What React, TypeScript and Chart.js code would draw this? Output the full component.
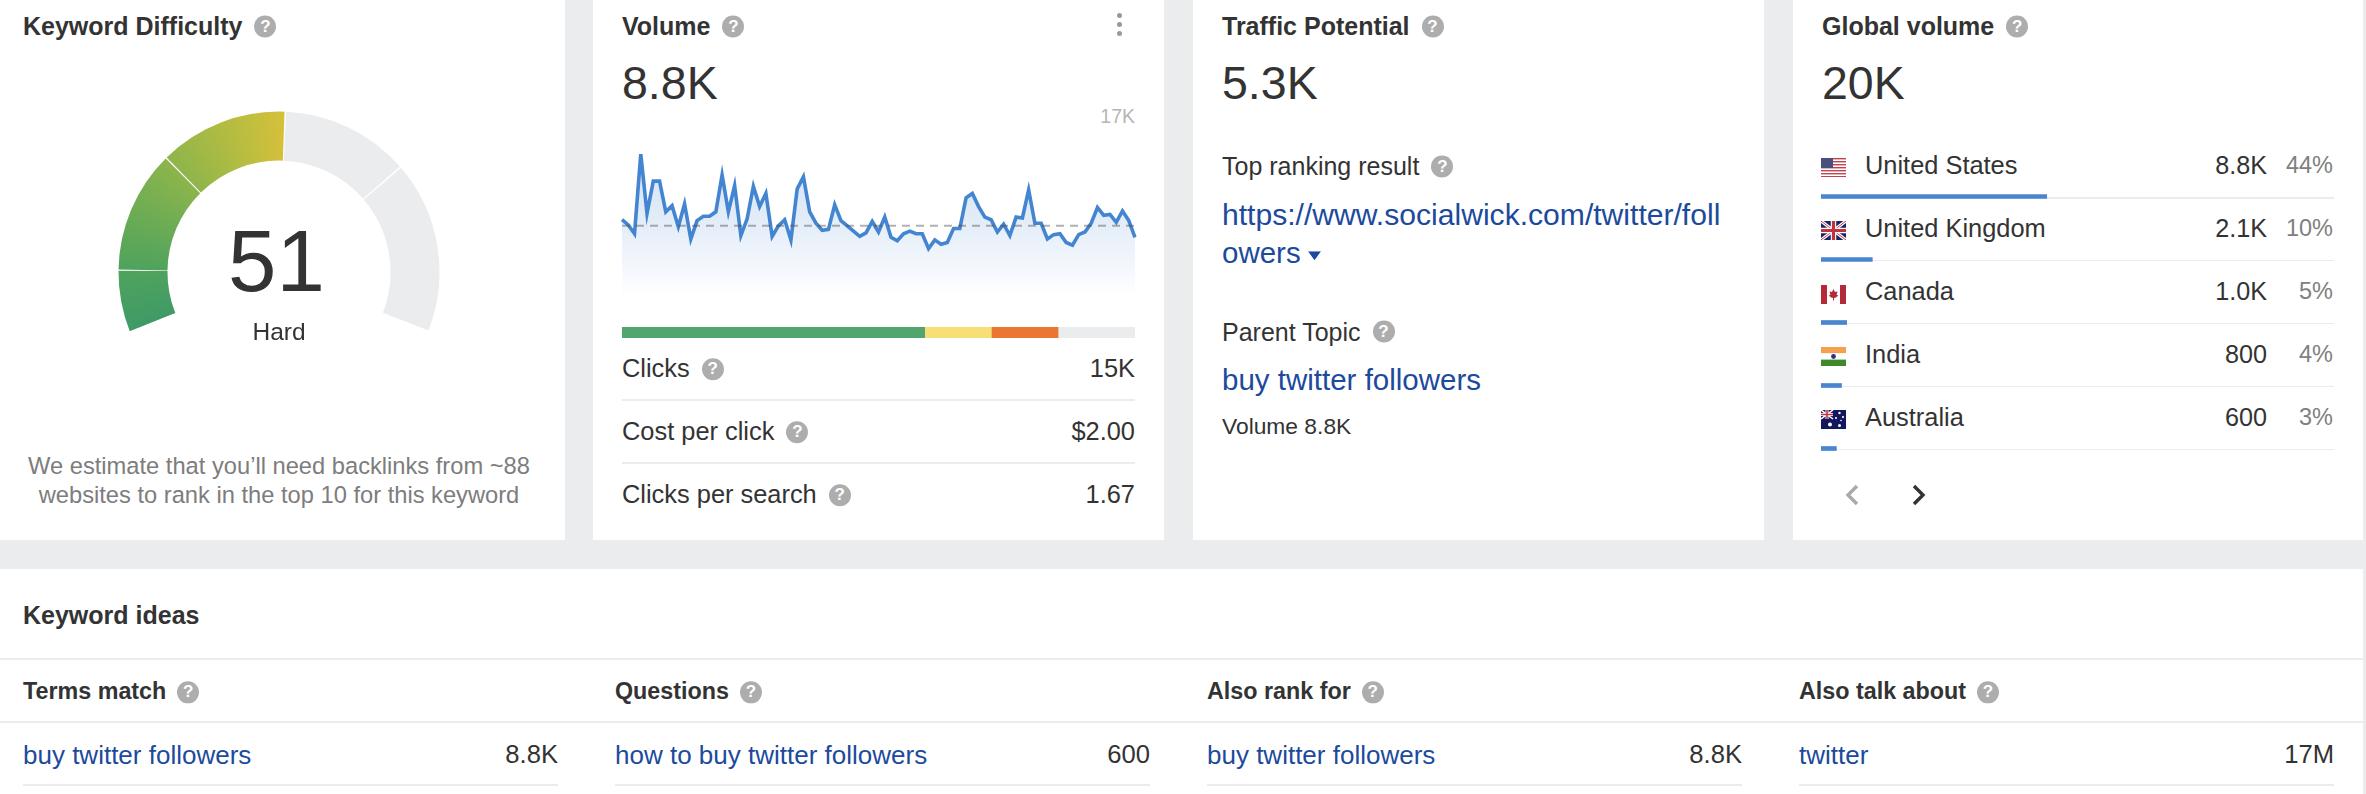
import React, { useEffect, useRef } from 'react';
import Chart from 'chart.js/auto';

const gaugeBands = [10, 20, 21, 21, 28];
const gaugeScore = '51';
const gaugeLabel = 'Hard';

const volumeTrend = [
  9.5, 8.9, 7.9, 17.0, 10.2, 13.9, 13.9, 10.4, 11.1, 8.7, 11.3, 7.3, 9.4, 9.9, 9.9, 10.4, 14.6, 10.4, 13.4, 7.7, 9.6,
  13.3, 11.0, 12.5, 7.6, 8.8, 9.5, 7.2, 13.0, 14.4, 10.4, 9.1, 8.3, 8.4, 11.2, 9.4, 8.8, 8.2, 7.6, 8.0, 9.3, 8.1, 9.8,
  7.5, 7.1, 7.9, 8.2, 7.9, 7.9, 6.2, 7.2, 6.7, 6.9, 8.5, 8.5, 12.0, 12.5, 11.0, 9.8, 9.5, 8.1, 9.0, 7.7, 9.8, 9.7,
  12.9, 9.1, 9.1, 7.3, 7.8, 7.9, 6.9, 6.6, 7.8, 8.1, 9.1, 10.9, 10.0, 10.1, 9.2, 10.5, 9.4, 7.5,
];
const volumeRef = 8.8;
const volumeMax = 17;

const clickShares = [59, 13, 13, 15];
const clickColors = ['#52a56e', '#f7df76', '#eb7632', '#ebecee'];

const statRows = ['Clicks', 'Cost per click', 'Clicks per search'];
const statValues = ['15K', '$2.00', '1.67'];

const countries = ['United States', 'United Kingdom', 'Canada', 'India', 'Australia'];
const countryVolumes = ['8.8K', '2.1K', '1.0K', '800', '600'];
const countryShares = [44, 10, 5, 4, 3];

const ideaHeads = ['Terms match', 'Questions', 'Also rank for', 'Also talk about'];
const ideaTerms = ['buy twitter followers', 'how to buy twitter followers', 'buy twitter followers', 'twitter'];
const ideaValues = ['8.8K', '600', '8.8K', '17M'];

const FONT = '"Liberation Sans", Arial, sans-serif';
const INK = '#333333';
const LINK = '#1c4a9c';
const RULE = '#ebecee';
const COUNTRY_Y = [165.5, 228.5, 292, 354.5, 417.5];
const IDEA_X = [23, 615, 1207, 1799];

function T({ x, y, size = 25, color = INK, bold = false, right = false, center = false, children }: any) {
  const style: React.CSSProperties = {
    position: 'absolute',
    top: y,
    fontSize: size,
    lineHeight: 1,
    color,
    fontWeight: bold ? 700 : 400,
    whiteSpace: 'nowrap',
    display: 'flex',
    alignItems: 'center',
  };
  if (right) {
    style.right = 2366 - x;
    style.transform = 'translateY(-50%)';
  } else if (center) {
    style.left = x;
    style.transform = 'translate(-50%, -50%)';
  } else {
    style.left = x;
    style.transform = 'translateY(-50%)';
  }
  return <div style={style}>{children}</div>;
}

function Help({ gap = 12 }: { gap?: number }) {
  return (
    <span
      style={{
        marginLeft: gap,
        width: 22,
        height: 22,
        borderRadius: '50%',
        background: '#adadad',
        color: '#fff',
        fontSize: 17,
        fontWeight: 700,
        lineHeight: '22px',
        textAlign: 'center',
        display: 'inline-block',
      }}
    >
      ?
    </span>
  );
}

function Box({ x, y, w, h, bg = RULE }: any) {
  return <div style={{ position: 'absolute', left: x, top: y, width: w, height: h, background: bg }} />;
}

function Flag({ y, name }: { y: number; name: string }) {
  let art = null;
  if (name === 'United States') {
    art = (
      <>
        <rect width="25" height="19" fill="#fff" />
        {[0, 3, 6, 9, 12, 15, 18].map((s) => (
          <rect key={s} y={s} width="25" height="1.4" fill="#c0444f" />
        ))}
        <rect width="12" height="10" fill="#4a4f7e" />
      </>
    );
  } else if (name === 'United Kingdom') {
    art = (
      <>
        <rect width="25" height="19" fill="#1a2363" />
        <path d="M0 0L25 19M25 0L0 19" stroke="#fff" strokeWidth="3.2" />
        <path d="M0 0L25 19M25 0L0 19" stroke="#c6384a" strokeWidth="1" />
        <path d="M12.5 0V19M0 9.5H25" stroke="#fff" strokeWidth="5.5" />
        <path d="M12.5 0V19M0 9.5H25" stroke="#c6303f" strokeWidth="3.2" />
      </>
    );
  } else if (name === 'Canada') {
    art = (
      <>
        <rect width="25" height="19" fill="#fff" />
        <rect width="6" height="19" fill="#b32a38" />
        <rect x="19" width="6" height="19" fill="#b32a38" />
        <path d="M12.5 4L14 7L16.5 6.5L15.6 10L17.5 10.6L14 13L13 12.8V15.5H12V12.8L11 13L7.5 10.6L9.4 10L8.5 6.5L11 7Z" fill="#b32a38" />
      </>
    );
  } else if (name === 'India') {
    art = (
      <>
        <rect width="25" height="6.4" fill="#f4a04e" />
        <rect y="6.4" width="25" height="6.2" fill="#fff" />
        <rect y="12.6" width="25" height="6.4" fill="#3d8a2b" />
        <circle cx="12.5" cy="9.5" r="2.4" fill="#2f2f8f" />
      </>
    );
  } else {
    art = (
      <>
        <rect width="25" height="19" fill="#14165e" />
        <rect width="12" height="9" fill="#1a2363" />
        <path d="M0 0L12 9M12 0L0 9" stroke="#fff" strokeWidth="1.5" />
        <path d="M6 0V9M0 4.5H12" stroke="#fff" strokeWidth="3" />
        <path d="M6 0V9M0 4.5H12" stroke="#c6303f" strokeWidth="1.6" />
        {[
          [9, 14.5, 2],
          [18.5, 15.5, 1.5],
          [18.5, 3, 1.2],
          [15, 8, 1.1],
          [22, 7, 1.1],
          [20, 10.5, 0.8],
        ].map(([cx, cy, r], i) => (
          <circle key={i} cx={cx} cy={cy} r={r} fill="#fff" />
        ))}
      </>
    );
  }
  return (
    <svg style={{ position: 'absolute', left: 1821, top: y }} width="25" height="19" viewBox="0 0 25 19">
      {art}
    </svg>
  );
}

// dashed line at the keyword's volume, through the value scale
const refLine = {
  id: 'refLine',
  afterDatasetsDraw(chart: any) {
    const { ctx, chartArea } = chart;
    const y = chart.scales.y.getPixelForValue(volumeRef);
    ctx.save();
    ctx.strokeStyle = 'rgba(70, 70, 70, 0.42)';
    ctx.lineWidth = 2;
    ctx.setLineDash([8, 6]);
    ctx.beginPath();
    ctx.moveTo(chartArea.left, y);
    ctx.lineTo(chartArea.right, y);
    ctx.stroke();
    ctx.restore();
  },
};

export default function App() {
  const gaugeRef = useRef<HTMLCanvasElement | null>(null);
  const trendRef = useRef<HTMLCanvasElement | null>(null);
  const clicksRef = useRef<HTMLCanvasElement | null>(null);
  const countryRef = useRef<HTMLCanvasElement | null>(null);

  useEffect(() => {
    document.body.style.margin = '0';
    document.body.style.background = '#ebecee';
    const charts: Chart[] = [];

    const gaugeCtx = gaugeRef.current!.getContext('2d')!;
    const startDeg = -111.7;
    const arc = gaugeCtx.createConicGradient(((startDeg - 90) * Math.PI) / 180, 162, 161);
    arc.addColorStop(0, '#3e9a66');
    arc.addColorStop(0.07, '#52a45c');
    arc.addColorStop(0.18, '#8ab44c');
    arc.addColorStop(0.25, '#b0bc42');
    arc.addColorStop(0.32, '#d8c03a');
    arc.addColorStop(0.33, '#ebecee');
    charts.push(
      new Chart(gaugeCtx, {
        type: 'doughnut',
        data: {
          labels: gaugeBands.map((_, i) => String(i)),
          datasets: [
            {
              data: gaugeBands,
              backgroundColor: (c: any) => (c.dataIndex < 3 ? arc : '#ebecee'),
              borderWidth: 0,
              spacing: 3,
            } as any,
          ],
        },
        options: {
          animation: false,
          responsive: false,
          rotation: startDeg,
          circumference: 223.4,
          cutout: '69.2%',
          radius: 159,
          events: [],
          plugins: { legend: { display: false }, tooltip: { enabled: false } },
        } as any,
      }),
    );

    const trendCtx = trendRef.current!.getContext('2d')!;
    const fade = trendCtx.createLinearGradient(0, 9, 0, 153);
    fade.addColorStop(0, 'rgba(68, 133, 209, 0.24)');
    fade.addColorStop(0.5, 'rgba(68, 133, 209, 0.14)');
    fade.addColorStop(1, 'rgba(68, 133, 209, 0)');
    charts.push(
      new Chart(trendCtx, {
        type: 'line',
        data: {
          labels: volumeTrend.map((_, i) => String(i)),
          datasets: [
            {
              data: volumeTrend,
              borderColor: '#4485d1',
              borderWidth: 3.6,
              backgroundColor: fade,
              fill: 'origin',
              pointRadius: 0,
              tension: 0,
              borderJoinStyle: 'miter',
            },
          ],
        },
        options: {
          animation: false,
          responsive: false,
          events: [],
          layout: { padding: { left: 4, right: 4, top: 9, bottom: 0 } },
          plugins: { legend: { display: false }, tooltip: { enabled: false } },
          scales: {
            x: { display: false, offset: false },
            y: { display: false, min: 0, max: volumeMax },
          },
        },
        plugins: [refLine],
      }),
    );

    charts.push(
      new Chart(clicksRef.current!, {
        type: 'bar',
        data: {
          labels: ['Clicks'],
          datasets: clickShares.map((v, i) => ({
            data: [v],
            backgroundColor: clickColors[i],
            barPercentage: 1,
            categoryPercentage: 1,
          })),
        },
        options: {
          indexAxis: 'y',
          animation: false,
          responsive: false,
          events: [],
          plugins: { legend: { display: false }, tooltip: { enabled: false } },
          scales: {
            x: { display: false, stacked: true, min: 0, max: 100 },
            y: { display: false, stacked: true },
          },
        },
      }),
    );

    charts.push(
      new Chart(countryRef.current!, {
        type: 'bar',
        data: {
          labels: countries,
          datasets: [{ data: countryShares, backgroundColor: '#4a86d0', barThickness: 4 }],
        },
        options: {
          indexAxis: 'y',
          animation: false,
          responsive: false,
          events: [],
          plugins: { legend: { display: false }, tooltip: { enabled: false } },
          scales: {
            x: { display: false, min: 0, max: 100 },
            y: { display: false },
          },
        },
      }),
    );

    return () => {
      charts.forEach((c) => c.destroy());
    };
  }, []);

  const canvasAt = (left: number, top: number): React.CSSProperties => ({ position: 'absolute', left, top, display: 'block' });

  return (
    <div
      style={{
        position: 'absolute',
        left: 0,
        top: 0,
        width: 2366,
        height: 794,
        overflow: 'hidden',
        background: '#ebecee',
        fontFamily: FONT,
      }}
    >
      <Box x={0} y={0} w={565} h={540} bg="#fff" />
      <Box x={593} y={0} w={571} h={540} bg="#fff" />
      <Box x={1193} y={0} w={571} h={540} bg="#fff" />
      <Box x={1793} y={0} w={570} h={540} bg="#fff" />
      <Box x={0} y={569} w={2363} h={225} bg="#fff" />

      {/* Keyword Difficulty */}
      <T x={23} y={26} bold size={25}>
        Keyword Difficulty
        <Help />
      </T>
      <canvas ref={gaugeRef} width={324} height={222} style={canvasAt(117, 111)} />
      <T x={276.5} y={260} center size={87}>
        {gaugeScore}
      </T>
      <T x={279} y={332} center size={24.5}>
        {gaugeLabel}
      </T>
      <T x={279} y={467} center size={23.7} color="#7d7d7d">
        We estimate that you’ll need backlinks from ~88
      </T>
      <T x={279} y={496} center size={23.7} color="#7d7d7d">
        websites to rank in the top 10 for this keyword
      </T>

      {/* Volume */}
      <T x={622} y={26} bold size={25}>
        Volume
        <Help />
      </T>
      {[15, 24, 33].map((y) => (
        <div
          key={y}
          style={{ position: 'absolute', left: 1117, top: y - 2.5, width: 5, height: 5, borderRadius: '50%', background: '#999' }}
        />
      ))}
      <T x={622} y={83} size={46.5}>
        8.8K
      </T>
      <T x={1135} y={117} right size={19.5} color="#b5b5b5">
        17K
      </T>
      <canvas ref={trendRef} width={521} height={158} style={canvasAt(618, 145)} />
      <canvas ref={clicksRef} width={513} height={11} style={canvasAt(622, 327)} />
      {statRows.map((label, i) => (
        <React.Fragment key={label}>
          <T x={622} y={369 + i * 63} size={25.4}>
            {label}
            <Help />
          </T>
          <T x={1135} y={369 + i * 63} right size={25.4}>
            {statValues[i]}
          </T>
        </React.Fragment>
      ))}
      <Box x={622} y={399} w={513} h={2} />
      <Box x={622} y={462} w={513} h={2} />

      {/* Traffic Potential */}
      <T x={1222} y={26} bold size={25}>
        Traffic Potential
        <Help />
      </T>
      <T x={1222} y={83} size={46.5}>
        5.3K
      </T>
      <T x={1222} y={166} size={25}>
        Top ranking result
        <Help />
      </T>
      <T x={1222} y={214.5} size={30.1} color={LINK}>
        https://www.socialwick.com/twitter/foll
      </T>
      <T x={1222} y={253} size={29.5} color={LINK}>
        owers
        <svg style={{ marginLeft: 7, marginTop: 6 }} width="13" height="9" viewBox="0 0 13 9">
          <path d="M0 0H13L6.5 9Z" fill={LINK} />
        </svg>
      </T>
      <T x={1222} y={331.5} size={25}>
        Parent Topic
        <Help />
      </T>
      <T x={1222} y={379.5} size={29.5} color={LINK}>
        buy twitter followers
      </T>
      <T x={1222} y={426} size={22.8}>
        Volume 8.8K
      </T>

      {/* Global volume */}
      <T x={1822} y={26} bold size={25}>
        Global volume
        <Help />
      </T>
      <T x={1822} y={83} size={46.5}>
        20K
      </T>
      {countries.map((name, i) => (
        <React.Fragment key={name}>
          <Flag y={COUNTRY_Y[i] - 7.5} name={name} />
          <T x={1865} y={COUNTRY_Y[i]} size={25.4}>
            {name}
          </T>
          <T x={2267} y={COUNTRY_Y[i]} right size={25.2}>
            {countryVolumes[i]}
          </T>
          <T x={2333} y={COUNTRY_Y[i]} right size={23.5} color="#808080">
            {countryShares[i]}%
          </T>
          <Box x={1821} y={197 + i * 62.9} w={513} h={1.5} />
        </React.Fragment>
      ))}
      <canvas ref={countryRef} width={513} height={315} style={canvasAt(1821, 164.5)} />
      <svg style={{ position: 'absolute', left: 1844, top: 483 }} width="16" height="24" viewBox="0 0 16 24">
        <path d="M13 3L4 12L13 21" fill="none" stroke="#aaaaaa" strokeWidth="3.4" />
      </svg>
      <svg style={{ position: 'absolute', left: 1911, top: 483 }} width="16" height="24" viewBox="0 0 16 24">
        <path d="M3 3L12 12L3 21" fill="none" stroke={INK} strokeWidth="3.4" />
      </svg>

      {/* Keyword ideas */}
      <T x={23} y={615} bold size={25}>
        Keyword ideas
      </T>
      <Box x={0} y={658} w={2363} h={2} />
      <Box x={0} y={721} w={2363} h={2} />
      {ideaHeads.map((head, i) => (
        <React.Fragment key={head}>
          <T x={IDEA_X[i]} y={692} bold size={23.3}>
            {head}
            <Help gap={11} />
          </T>
          <T x={IDEA_X[i]} y={755} size={26} color={LINK}>
            {ideaTerms[i]}
          </T>
          <T x={IDEA_X[i] + 535} y={755} right size={25.6}>
            {ideaValues[i]}
          </T>
          <Box x={IDEA_X[i]} y={784} w={535} h={2} />
        </React.Fragment>
      ))}
    </div>
  );
}
